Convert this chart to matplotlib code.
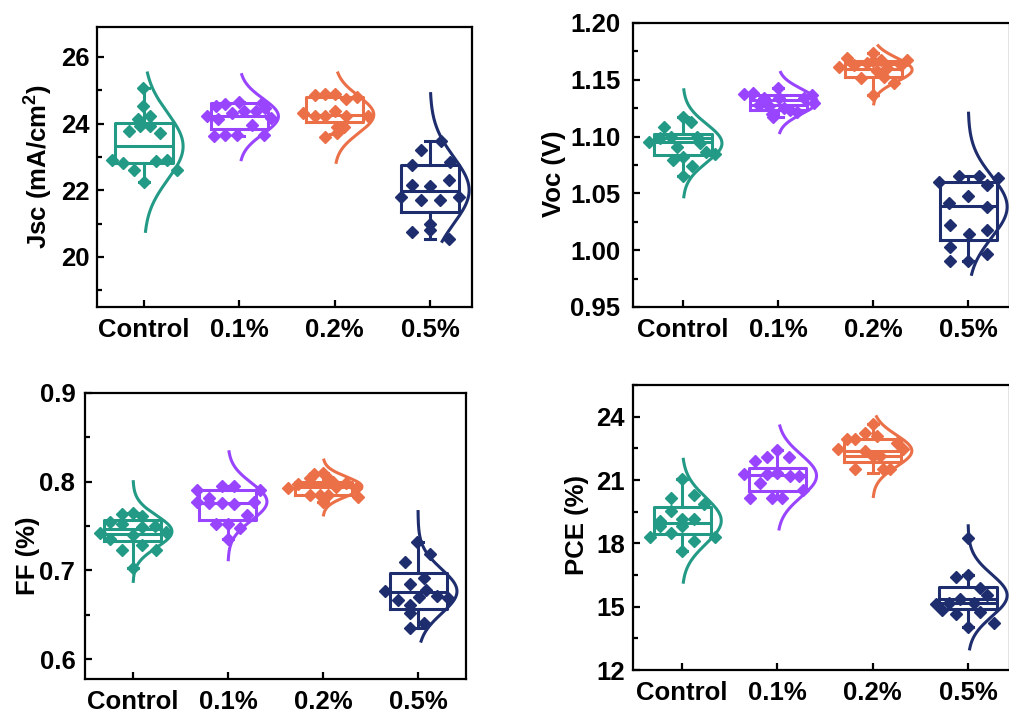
import numpy as np
import matplotlib
matplotlib.use("Agg")
import matplotlib.pyplot as plt
from matplotlib.ticker import MultipleLocator

plt.rcParams['font.family'] = ['Liberation Sans', 'DejaVu Sans']
plt.rcParams['font.weight'] = 'bold'
plt.rcParams['mathtext.fontset'] = 'custom'
plt.rcParams['mathtext.rm'] = 'Liberation Sans:bold'
plt.rcParams['mathtext.default'] = 'rm'

groups = ["Control", "0.1%", "0.2%", "0.5%"]
colors = ["#229a85", "#9944ff", "#eb7048", "#1e2d6e"]

# ---- Jsc ----
jsc_pts = [
    [25.07, 24.52, 24.24, 24.14, 23.94, 23.92, 23.77, 23.72, 22.90, 22.82, 22.62, 22.87, 22.90, 22.60, 22.24],
    [24.24, 23.64, 24.14, 23.67, 24.52, 24.60, 24.32, 23.67, 24.64, 24.37, 23.97, 24.37, 24.62, 23.67, 24.47, 24.17],
    [24.87, 24.90, 24.90, 24.74, 24.80, 24.32, 24.22, 24.22, 24.37, 24.22, 24.22, 23.90, 23.90, 23.72, 23.60],
    [23.20, 23.47, 22.75, 22.84, 22.17, 22.12, 22.30, 21.80, 21.72, 21.70, 21.80, 21.00, 20.82, 20.74, 20.55],
]
jsc_jit = [
    [-0.01, -0.01, 0.06, -0.06, -0.04, 0.06, -0.16, 0.17, -0.34, -0.22, -0.11, 0.13, 0.24, 0.35, 0.0],
    [-0.34, -0.27, -0.22, -0.15, -0.25, -0.15, -0.08, -0.02, 0.0, 0.05, 0.13, 0.17, 0.24, 0.26, 0.27, 0.33],
    [-0.21, -0.10, 0.0, 0.12, 0.23, -0.33, -0.21, -0.10, 0.0, 0.12, 0.35, 0.02, 0.10, 0.02, -0.10],
    [-0.10, 0.12, -0.19, 0.21, -0.19, 0.0, 0.20, -0.30, -0.10, 0.10, 0.30, 0.0, 0.0, -0.19, 0.20],
]
# q1, median, mean, q3, whisker low, whisker high
jsc_box = [(22.82, 23.32, 23.32, 24.02, 22.24, 25.07),
           (23.84, 24.22, 24.22, 24.62, 23.64, 24.64),
           (24.04, 24.27, 24.27, 24.80, 23.68, 24.90),
           (21.35, 21.97, 21.97, 22.75, 20.55, 23.47)]
# peak, sd, low end, high end of the distribution curve
jsc_curve = [(23.32, 1.0, 20.77, 25.52),
             (24.22, 0.53, 22.92, 25.47),
             (24.27, 0.56, 22.84, 25.52),
             (22.0, 1.0, 20.47, 24.9)]

# ---- Voc ----
voc_pts = [
    [1.0956, 1.1082, 1.1000, 1.0912, 1.0794, 1.1171, 1.1132, 1.1000, 1.0868, 1.0847, 1.0741, 1.0653, 1.0824, 1.0941, 1.0991],
    [1.1376, 1.1388, 1.1338, 1.1265, 1.1170, 1.1426, 1.1338, 1.1250, 1.1235, 1.1220, 1.1338, 1.1368, 1.1300, 1.1200, 1.1280],
    [1.1612, 1.1691, 1.1632, 1.1515, 1.1647, 1.1735, 1.1662, 1.1574, 1.1676, 1.1603, 1.1471, 1.1632, 1.1676, 1.1368, 1.1529],
    [1.0603, 1.0650, 1.0653, 1.0635, 1.0574, 1.0476, 1.0412, 1.0380, 1.0221, 1.0141, 1.0176, 1.0030, 0.9906, 0.9906, 0.9970],
]
voc_jit = [
    [-0.36, -0.20, -0.13, -0.06, -0.11, 0.0, 0.08, 0.15, 0.24, 0.34, 0.09, 0.0, 0.0, 0.18, -0.24],
    [-0.36, -0.26, -0.15, -0.10, -0.05, 0.0, 0.01, 0.06, 0.13, 0.20, 0.27, 0.36, 0.38, -0.06, -0.20],
    [-0.36, -0.27, -0.20, -0.13, -0.06, 0.0, 0.0, 0.04, 0.08, 0.15, 0.22, 0.29, 0.36, 0.0, 0.11],
    [-0.31, -0.10, 0.11, 0.31, 0.20, 0.0, -0.20, 0.20, -0.19, 0.01, 0.20, -0.19, -0.19, 0.0, 0.20],
]
voc_box = [(1.0838, 1.0990, 1.0950, 1.1024, 1.0653, 1.1171),
           (1.1235, 1.1318, 1.1280, 1.1368, 1.1170, 1.1426),
           (1.1529, 1.1641, 1.1594, 1.1662, 1.1368, 1.1735),
           (1.0088, 1.0388, 1.0388, 1.0603, 0.9906, 1.0653)]
voc_curve = [(1.0941, 0.017, 1.047, 1.1412),
             (1.1309, 0.011, 1.1035, 1.1565),
             (1.1588, 0.0105, 1.1288, 1.18),
             (1.0382, 0.027, 0.9788, 1.1206)]

# ---- FF ----
ff_pts = [
    [0.742, 0.755, 0.7637, 0.7524, 0.7652, 0.740, 0.7614, 0.7494, 0.7502, 0.735, 0.7232, 0.7288, 0.7232, 0.7438, 0.7026],
    [0.7906, 0.7813, 0.7951, 0.7951, 0.7906, 0.7770, 0.7764, 0.7764, 0.7749, 0.7625, 0.7524, 0.7524, 0.7352, 0.7480, 0.7770],
    [0.7925, 0.7974, 0.8037, 0.8082, 0.8094, 0.8037, 0.7850, 0.7850, 0.7850, 0.7944, 0.7981, 0.7925, 0.7824, 0.7775, 0.8000],
    [0.7315, 0.7187, 0.7090, 0.6850, 0.6914, 0.6764, 0.6783, 0.6715, 0.6663, 0.6614, 0.6690, 0.6521, 0.6408, 0.6352, 0.6700],
]
ff_jit = [
    [-0.35, -0.24, -0.12, -0.12, 0.0, 0.0, 0.10, 0.10, 0.23, -0.24, -0.12, 0.10, 0.24, 0.35, 0.0],
    [-0.33, -0.20, -0.06, 0.06, 0.34, -0.33, -0.20, -0.06, 0.06, 0.20, -0.13, 0.0, 0.0, 0.13, 0.27],
    [-0.37, -0.26, -0.14, -0.09, 0.0, 0.05, -0.14, -0.03, 0.05, 0.14, 0.24, 0.35, 0.37, 0.0, 0.10],
    [-0.01, 0.13, -0.14, -0.08, 0.06, -0.35, 0.08, 0.20, -0.21, -0.08, 0.32, -0.08, 0.06, -0.08, 0.01],
]
ff_box = [(0.7326, 0.7464, 0.7412, 0.7569, 0.7026, 0.7652),
          (0.7569, 0.7764, 0.7764, 0.7906, 0.7350, 0.7951),
          (0.7850, 0.7970, 0.7936, 0.8000, 0.7775, 0.8094),
          (0.6569, 0.6757, 0.6757, 0.6970, 0.6352, 0.7315)]
ff_curve = [(0.7438, 0.018, 0.6876, 0.80),
            (0.7775, 0.021, 0.712, 0.8337),
            (0.7944, 0.011, 0.7625, 0.8243),
            (0.6764, 0.025, 0.6202, 0.7663)]

# ---- PCE ----
pce_pts = [
    [18.28, 19.07, 18.83, 20.17, 19.54, 18.49, 21.04, 19.15, 18.83, 17.65, 20.28, 19.15, 18.13, 19.86, 18.28],
    [21.28, 21.91, 20.88, 20.17, 22.11, 20.13, 22.43, 21.32, 20.13, 22.11, 21.20, 21.20, 20.54, 21.30],
    [22.49, 22.96, 22.96, 21.51, 23.24, 23.64, 22.14, 22.14, 21.54, 21.51, 22.77, 22.46, 22.38, 23.10],
    [18.24, 16.39, 16.50, 15.53, 15.13, 15.18, 15.34, 15.18, 14.82, 14.66, 14.74, 14.03, 14.24, 15.90],
]
pce_jit = [
    [-0.34, -0.23, -0.23, -0.12, -0.12, -0.12, 0.0, 0.0, 0.0, 0.0, 0.12, 0.12, 0.12, 0.23, 0.34],
    [-0.35, -0.24, -0.18, -0.29, -0.11, -0.06, 0.0, 0.0, 0.05, 0.12, 0.13, 0.23, 0.27, -0.11],
    [-0.36, -0.27, -0.19, -0.19, -0.08, 0.0, 0.0, 0.08, 0.11, 0.18, 0.25, 0.32, -0.08, 0.04],
    [0.0, -0.13, 0.0, 0.20, -0.34, -0.20, -0.08, 0.06, -0.27, -0.13, 0.13, 0.0, 0.27, 0.13],
]
pce_box = [(18.44, 18.96, 18.96, 19.70, 17.65, 21.04),
           (20.49, 21.23, 21.23, 21.59, 20.13, 22.43),
           (21.83, 22.38, 22.14, 22.93, 21.32, 23.64),
           (14.90, 15.34, 15.18, 15.92, 14.03, 16.50)]
pce_curve = [(19.07, 1.1, 16.16, 21.98),
             (21.2, 1.0, 18.68, 23.56),
             (22.38, 0.75, 20.22, 24.0),
             (15.53, 1.0, 13.0, 18.83)]

W, H = 1009, 716
fig = plt.figure(figsize=(W / 100, H / 100), dpi=100)


def px_axes(l, t, r, b):
    return fig.add_axes([l / W, (H - b) / H, (r - l) / W, (b - t) / H])


def draw(ax, pts, jit, box, curve, ylim, major, minor, xlim, ylabel, lab_x, lab_y, ypad, fmt=None):
    for i, c in enumerate(colors):
        x0 = i + 1
        q1, med, mean, q3, lo, hi = box[i]
        st = dict(q1=q1, med=med, mean=mean, q3=q3, whislo=lo, whishi=hi, fliers=[])
        lw = 2.2
        ax.bxp([st], positions=[x0], widths=0.6, showmeans=(mean != med), meanline=True,
               showfliers=False, capwidths=[0.1], manage_ticks=False,
               boxprops=dict(color=c, lw=lw), whiskerprops=dict(color=c, lw=lw),
               capprops=dict(color=c, lw=lw), medianprops=dict(color=c, lw=lw),
               meanprops=dict(color=c, lw=lw, ls='-'))
        mu, sd, ylo, yhi = curve[i]
        yy = np.linspace(ylo, yhi, 300)
        ax.plot(x0 + 0.41 * np.exp(-0.5 * ((yy - mu) / sd) ** 2), yy, color=c, lw=lw, zorder=3)
        ax.plot(x0 + np.array(jit[i]), pts[i], ls='none', marker='D', ms=6.2,
                color=c, mec=c, zorder=4)
    ax.set_xlim(*xlim)
    ax.set_ylim(*ylim)
    ax.set_xticks([1, 2, 3, 4])
    ax.set_xticklabels(groups)
    ax.yaxis.set_major_locator(MultipleLocator(major))
    ax.yaxis.set_minor_locator(MultipleLocator(minor))
    if fmt:
        ax.yaxis.set_major_formatter(plt.FormatStrFormatter(fmt))
    ax.tick_params(axis='both', which='both', direction='in', width=1.6, labelsize=18.5)
    ax.tick_params(axis='both', which='major', length=5)
    ax.tick_params(axis='y', which='minor', length=3.5)
    ax.tick_params(axis='x', which='major', pad=8)
    ax.tick_params(axis='y', which='major', pad=ypad)
    for s in ax.spines.values():
        s.set_linewidth(1.6)
    ax.set_ylabel(ylabel, fontsize=18.5, fontweight='bold')
    ax.yaxis.set_label_coords(lab_x, lab_y)


ax1 = px_axes(97, 27, 472, 307)
draw(ax1, jsc_pts, jsc_jit, jsc_box, jsc_curve, (18.5, 26.9), 2, 1, (0.507, 4.44),
     r'Jsc (mA/cm$^2$)', -0.112, 0.5, 5)

ax2 = px_axes(633, 23, 1010, 307)
draw(ax2, voc_pts, voc_jit, voc_box, voc_curve, (0.95, 1.20), 0.05, 0.025, (0.474, 4.44),
     'Voc (V)', -0.178, 0.47, 9, '%.2f')

ax3 = px_axes(85, 393, 466, 679)
draw(ax3, ff_pts, ff_jit, ff_box, ff_curve, (0.5775, 0.90), 0.1, 0.05, (0.495, 4.505),
     'FF (%)', -0.118, 0.43, 7, '%.1f')

ax4 = px_axes(633, 385, 1010, 670)
draw(ax4, pce_pts, pce_jit, pce_box, pce_curve, (12, 25.5), 3, 1.5, (0.484, 4.44),
     'PCE (%)', -0.118, 0.51, 6)

fig.savefig("out.png", dpi=100)
